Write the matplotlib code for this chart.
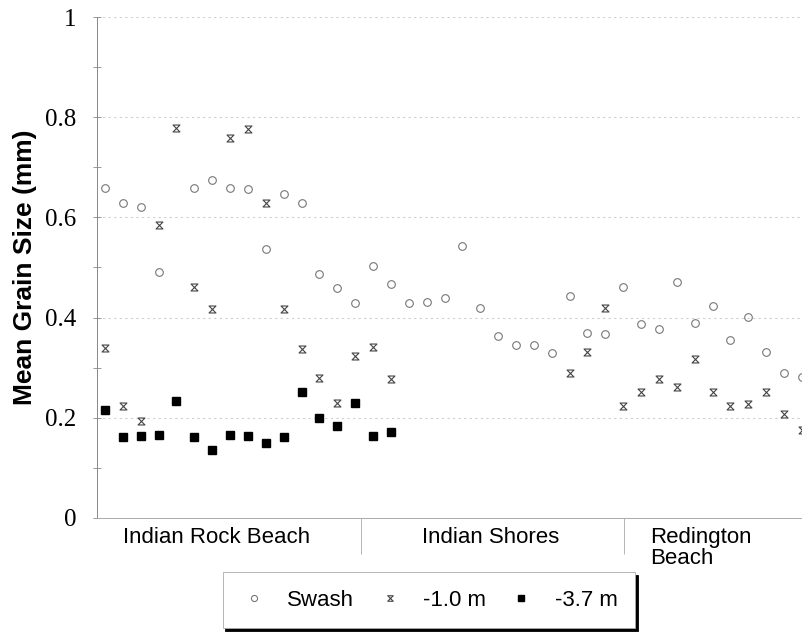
import numpy as np
import matplotlib.pyplot as plt
from matplotlib.path import Path

# sample position along the coast (index)
nan = np.nan
swash = [0.659, 0.629, 0.620, 0.491, nan, 0.659, 0.674, 0.659, 0.656, 0.537,
         0.647, 0.629, 0.488, 0.459, 0.429, 0.502, 0.468, 0.429, 0.431, 0.440,
         0.542, 0.419, 0.363, 0.345, 0.345, 0.330, 0.443, 0.370, 0.368, 0.462,
         0.387, 0.377, 0.471, 0.390, 0.424, 0.355, 0.402, 0.331, 0.290, 0.281]
m1_0 = [0.340, 0.223, 0.194, 0.584, 0.778, 0.461, 0.417, 0.759, 0.776, 0.629,
        0.418, 0.338, 0.280, 0.230, 0.324, 0.341, 0.277, nan, nan, nan,
        nan, nan, nan, nan, nan, nan, 0.290, 0.331, 0.419, 0.223,
        0.251, 0.277, 0.262, 0.317, 0.251, 0.223, 0.228, 0.251, 0.208, 0.176]
m3_7 = [0.216, 0.161, 0.163, 0.166, 0.234, 0.161, 0.136, 0.166, 0.163, 0.150,
        0.162, 0.252, 0.200, 0.183, 0.230, 0.163, 0.172]
beaches = ["Indian Rock Beach", "Indian Shores", "Redington\nBeach"]
yticks = [0, 0.2, 0.4, 0.6, 0.8, 1]
ytick_labels = ["0", "0.2", "0.4", "0.6", "0.8", "1"]

x_sw = np.arange(len(swash))
x_m1 = np.arange(len(m1_0))
x_m3 = np.arange(len(m3_7))

# hourglass marker
hourglass = Path([(-1, 1), (1, 1), (-1, -1), (1, -1), (-1, 1)],
                 [Path.MOVETO, Path.LINETO, Path.LINETO, Path.LINETO, Path.CLOSEPOLY])

W, H = 803, 635
fig = plt.figure(figsize=(W / 100, H / 100), dpi=100)
left_px, right_px, top_px, bot_px = 97, 887, 17, 518
ax = fig.add_axes([left_px / W, 1 - bot_px / H, (right_px - left_px) / W, (bot_px - top_px) / H])

step = 17.87
x0 = 105
ax.set_xlim((left_px - x0) / step, (right_px - x0) / step)
ax.set_ylim(0, 1)

ax.plot(x_sw, swash, ls="none", marker="o", ms=5.5, mfc="none", mec="#777777", mew=0.8, label="Swash")
ax.plot(x_m1, m1_0, ls="none", marker=hourglass, ms=5, mfc="none", mec="#444444", mew=0.8, label="-1.0 m")
ax.plot(x_m3, m3_7, ls="none", marker="s", ms=5.5, mfc="black", mec="black", label="-3.7 m")

# y axis
ax.set_yticks(yticks)
ax.set_yticklabels(ytick_labels, family="Liberation Serif", fontsize=18)
ax.set_yticks(np.arange(0.1, 1.0, 0.2), minor=True)
ax.tick_params(axis="y", which="both", direction="inout", length=6, width=0.6, color="#888888", pad=12)
ax.set_ylabel("Mean Grain Size (mm)", family="Liberation Sans", fontweight="bold", fontsize=19, labelpad=6)
for v in [0.2, 0.4, 0.6, 0.8, 1.0]:
    ax.axhline(v, color="#cfcfcf", lw=0.8, ls=(0, (2, 3)), zorder=0)

# x axis: category separators
seps = [(360.7 - x0) / step, (624 - x0) / step]
ax.set_xticks(seps)
ax.set_xticklabels(["", ""])
ax.tick_params(axis="x", direction="out", length=26, width=0.6, color="#aaaaaa")
label_px = [123, 422, 650]
for lp, name in zip(label_px, beaches):
    ax.text((lp - left_px) / (right_px - left_px), -0.018, name, transform=ax.transAxes,
            ha="left", va="top", family="Liberation Sans", fontsize=16, linespacing=1.0)

for s in ["top", "right"]:
    ax.spines[s].set_visible(False)
ax.spines["left"].set_color("#888888")
ax.spines["bottom"].set_color("#aaaaaa")
ax.spines["left"].set_linewidth(0.7)
ax.spines["bottom"].set_linewidth(0.7)

leg = fig.legend(loc="center", bbox_to_anchor=(429 / W, 1 - 600 / H), ncol=3,
                 prop={"family": "Liberation Sans", "size": 16}, frameon=True, fancybox=False,
                 edgecolor="#aaaaaa", borderpad=0.8, columnspacing=1.0, handletextpad=0.9,
                 handlelength=1.2, markerscale=0.8,
                 shadow={"ox": 2, "oy": -2, "color": "black", "alpha": 1})
leg.get_frame().set_linewidth(0.6)

fig.savefig("out.png", dpi=100)
